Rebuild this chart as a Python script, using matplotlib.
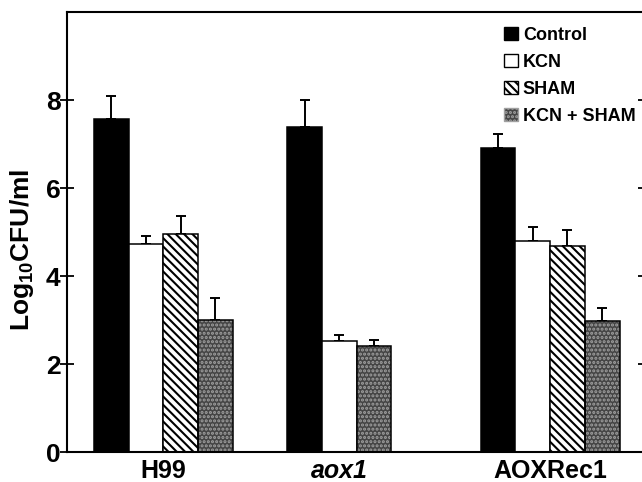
import numpy as np
import matplotlib
matplotlib.use("Agg")
import matplotlib.pyplot as plt
from matplotlib.patches import Patch

plt.rcParams['font.family'] = ['Liberation Sans', 'DejaVu Sans']
plt.rcParams['font.weight'] = 'bold'
plt.rcParams['mathtext.fontset'] = 'custom'
plt.rcParams['mathtext.rm'] = 'Liberation Sans:bold'
plt.rcParams['mathtext.bf'] = 'Liberation Sans:bold'
plt.rcParams['mathtext.it'] = 'Liberation Sans:bold:italic'
plt.rcParams['hatch.linewidth'] = 1.5

# data
strains = ["H99", "aox1", "AOXRec1"]
series = ["Control", "KCN", "SHAM", "KCN + SHAM"]
control = [7.58, 7.38, 6.92]
control_err = [0.52, 0.62, 0.32]
kcn = [4.74, 2.53, 4.80]
kcn_err = [0.16, 0.13, 0.32]
sham = [4.95, None, 4.68]          # not measured for aox1
sham_err = [0.41, None, 0.37]
kcn_sham = [3.00, 2.42, 2.98]
kcn_sham_err = [0.50, 0.12, 0.29]

values = [control, kcn, sham, kcn_sham]
errors = [control_err, kcn_err, sham_err, kcn_sham_err]

styles = [
    dict(color="black", edgecolor="black"),
    dict(color="white", edgecolor="black"),
    dict(color="white", edgecolor="black", hatch="\\\\\\\\"),
    dict(color="#454545", edgecolor="#a0a0a0", hatch="...."),
]

group_gap = 5.57
fig = plt.figure(figsize=(6.42, 4.82), dpi=100)
ax = fig.add_axes([0.105, 0.062, 0.90, 0.913])

centers = []
for g in range(len(strains)):
    base = g * group_gap
    slot = 0
    xs = []
    for s in range(len(series)):
        v = values[s][g]
        if v is None:
            continue
        x = base + slot
        st = styles[s]
        ax.bar(x, v, width=1.0, color=st["color"], edgecolor=st["edgecolor"],
               hatch=st.get("hatch"), linewidth=1.1 if "hatch" not in st else 0, zorder=2)
        if "hatch" in st:
            ax.bar(x, v, width=1.0, fill=False, edgecolor="black", linewidth=1.1, zorder=3)
        ax.errorbar(x, v, yerr=[[0], [errors[s][g]]], fmt="none", ecolor="black",
                    elinewidth=1.4, capsize=3.8, capthick=1.4, zorder=1)
        xs.append(x)
        slot += 1
    centers.append(np.mean(xs))

ax.set_xlim(-1.264, 15.38)
ax.set_ylim(0, 10)
ax.set_yticks([0, 2, 4, 6, 8])
ax.set_xticks(centers)
ax.set_xticklabels(strains)
ax.get_xticklabels()[1].set_style("italic")
ax.tick_params(axis="x", length=0, labelsize=18, pad=5)
ax.tick_params(axis="y", direction="inout", length=10, width=1.3, labelsize=19, pad=0,
               right=True)
for sp in ax.spines.values():
    sp.set_linewidth(1.5)

ax.set_ylabel(r"Log$_{10}$CFU/ml", fontsize=19, fontweight="bold")
ax.yaxis.set_label_coords(-0.055, 0.46)

handles = [Patch(facecolor="black", edgecolor="black"),
           Patch(facecolor="white", edgecolor="black"),
           Patch(facecolor="white", edgecolor="black", hatch="\\\\\\\\"),
           Patch(facecolor="#454545", edgecolor="#a0a0a0", hatch="....")]
leg = ax.legend(handles, series, loc="upper right", bbox_to_anchor=(0.99, 0.944),
                bbox_transform=fig.transFigure, frameon=False,
                prop=dict(family="Liberation Sans", weight="bold", size=13),
                handlelength=0.78, handleheight=0.7, handletextpad=0.25,
                labelspacing=0.55, borderpad=0, borderaxespad=0)

fig.savefig("out.png", dpi=100)
